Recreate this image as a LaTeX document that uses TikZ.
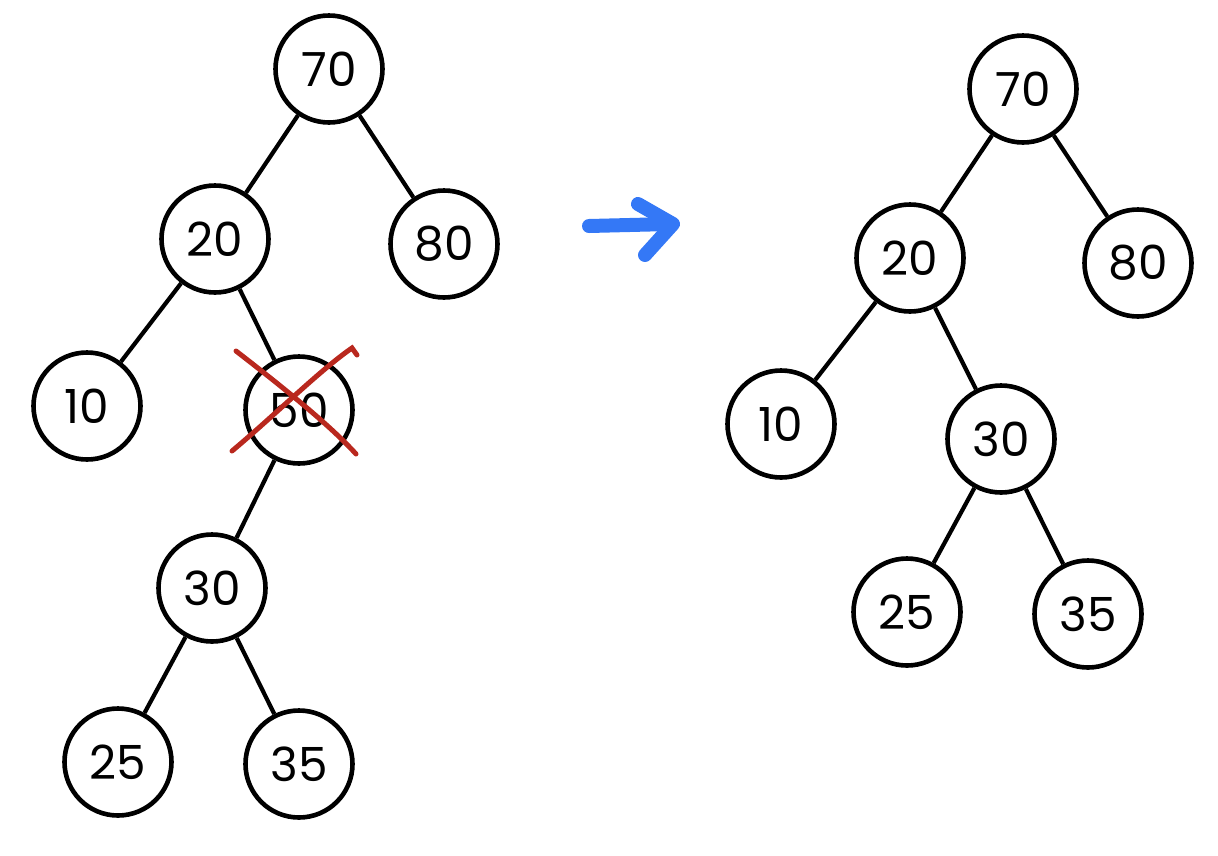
\documentclass[tikz,border=0pt]{standalone}
\usepackage{fontspec}
\setmainfont{Poppins}
\definecolor{crossred}{RGB}{185,40,30}
\definecolor{arrowblue}{RGB}{52,120,246}
\tikzset{
  treenode/.style={circle, draw=black, line width=4.6pt, minimum size=107pt, inner sep=0pt,
    font=\fontsize{47}{47}\selectfont, text=black},
  treeedge/.style={draw=black, line width=4.2pt},
  crossline/.style={draw=crossred, line width=5pt, line cap=round},
  bluearrow/.style={draw=arrowblue, line width=14pt, line cap=round, line join=round}
}
\begin{document}
\begin{tikzpicture}[x=1pt, y=-1pt]
\useasboundingbox (0,0) rectangle (1218,855);
% left tree
\node[treenode] (L70) at (329,69) {70};
\node[treenode] (L20) at (215,239) {20};
\node[treenode] (L80) at (444,244) {80};
\node[treenode] (L10) at (87,406) {10};
\node[treenode] (L50) at (299,410) {50};
\node[treenode] (L30) at (212,588) {30};
\node[treenode] (L25) at (118,762) {25};
\node[treenode] (L35) at (299,764) {35};
\draw[treeedge] (L70) -- (L20);
\draw[treeedge] (L70) -- (L80);
\draw[treeedge] (L20) -- (L10);
\draw[treeedge] (L20) -- (L50);
\draw[treeedge] (L50) -- (L30);
\draw[treeedge] (L30) -- (L25);
\draw[treeedge] (L30) -- (L35);
% red cross over 50
\coordinate (xa1) at (236,351);
\coordinate (xa2) at (356,454);
\coordinate (xb1) at (232,451);
\coordinate (xb2) at (352,348);
\coordinate (xb3) at (357,355);
\draw[crossline] (xa1) .. controls (280,385) and (330,425) .. (xa2);
\draw[crossline] (xb1) .. controls (275,415) and (320,370) .. (xb2) -- (xb3);
% arrow
\coordinate (ar1) at (589,226);
\coordinate (ar2) at (670,224);
\coordinate (ah1) at (638,204);
\coordinate (ah2) at (673,224);
\coordinate (ah3) at (645,255);
\draw[bluearrow] (ar1) -- (ar2);
\draw[bluearrow] (ah1) -- (ah2) -- (ah3);
% right tree
\node[treenode] (R70) at (1023,89) {70};
\node[treenode] (R20) at (910,258) {20};
\node[treenode] (R80) at (1138,263) {80};
\node[treenode] (R10) at (781,424) {10};
\node[treenode] (R30) at (1001,439) {30};
\node[treenode] (R25) at (907,612) {25};
\node[treenode] (R35) at (1088,614) {35};
\draw[treeedge] (R70) -- (R20);
\draw[treeedge] (R70) -- (R80);
\draw[treeedge] (R20) -- (R10);
\draw[treeedge] (R20) -- (R30);
\draw[treeedge] (R30) -- (R25);
\draw[treeedge] (R30) -- (R35);
\end{tikzpicture}
\end{document}
